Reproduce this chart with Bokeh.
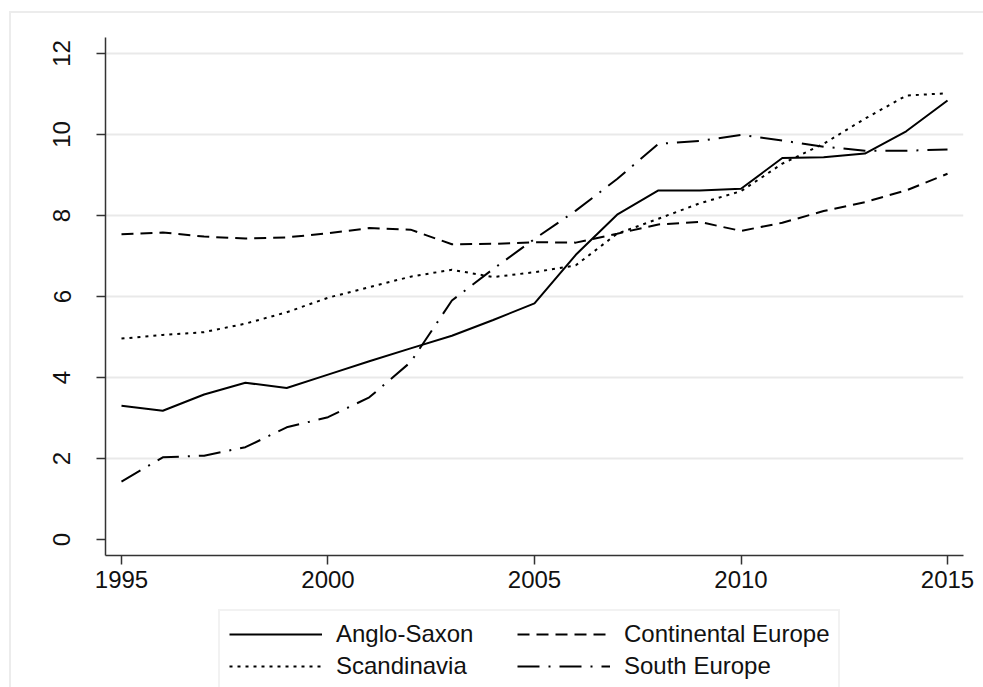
from bokeh.plotting import figure
from bokeh.layouts import column
from bokeh.models import Legend, LegendItem, FixedTicker, Range1d
from bokeh.embed import file_html
from bokeh.resources import INLINE

years = list(range(1995, 2016))
anglo_saxon = [3.30, 3.18, 3.58, 3.87, 3.74, 4.07, 4.40, 4.72, 5.03, 5.42, 5.83,
               7.03, 8.02, 8.62, 8.62, 8.66, 9.42, 9.44, 9.53, 10.08, 10.84]
continental_europe = [7.54, 7.58, 7.48, 7.43, 7.46, 7.56, 7.69, 7.65, 7.29, 7.30, 7.34,
                      7.33, 7.55, 7.78, 7.84, 7.62, 7.82, 8.11, 8.33, 8.62, 9.03]
scandinavia = [4.96, 5.05, 5.12, 5.33, 5.61, 5.97, 6.23, 6.49, 6.66, 6.48, 6.60,
               6.77, 7.55, 7.92, 8.30, 8.60, 9.28, 9.77, 10.39, 10.96, 11.02]
south_europe = [1.43, 2.03, 2.07, 2.28, 2.77, 3.02, 3.51, 4.38, 5.90, 6.68, 7.42,
                8.12, 8.90, 9.77, 9.84, 9.99, 9.85, 9.70, 9.60, 9.60, 9.63]

series_labels = ["Anglo-Saxon", "Continental Europe", "Scandinavia", "South Europe"]
x_ticks = [1995, 2000, 2005, 2010, 2015]
y_ticks = [0, 2, 4, 6, 8, 10, 12]
grid_ticks = [2, 4, 6, 8, 10, 12]

FONT = "Liberation Sans"
dashes = ["solid", "12 7", "3 5", "22 9 2 9"]

p = figure(width=972, height=588, title=None,
           x_range=Range1d(1994.613, 2015.387), y_range=Range1d(-0.395, 12.395),
           output_backend="svg", toolbar_location=None,
           min_border_left=94, min_border_right=20, min_border_top=24, min_border_bottom=46)

p.outline_line_color = None
p.background_fill_color = "white"
p.border_fill_color = "white"

p.xgrid.grid_line_color = None
p.ygrid.ticker = FixedTicker(ticks=grid_ticks)
p.ygrid.grid_line_color = "#e9e9e9"
p.ygrid.grid_line_width = 2

p.xaxis.ticker = FixedTicker(ticks=x_ticks)
p.yaxis.ticker = FixedTicker(ticks=y_ticks)
for ax in (p.xaxis, p.yaxis):
    ax.axis_line_color = "#333333"
    ax.axis_line_width = 1.5
    ax.major_tick_line_color = "#333333"
    ax.major_tick_line_width = 1.5
    ax.major_tick_out = 9
    ax.major_tick_in = 0
    ax.minor_tick_line_color = None
    ax.major_label_text_font = FONT
    ax.major_label_text_font_size = "24px"
    ax.major_label_text_color = "#111111"
p.xaxis.major_label_standoff = 6
p.yaxis.major_label_standoff = 26
p.yaxis.major_label_orientation = "vertical"

series = [anglo_saxon, continental_europe, scandinavia, south_europe]
for vals, dash in zip(series, dashes):
    p.line(years, vals, line_color="black", line_width=2, line_dash=dash)

# legend panel below the plot (its frame is aligned with the plot's frame)
lg = figure(width=972, height=86, title=None, output_backend="svg", toolbar_location=None,
            x_range=Range1d(0, 1), y_range=Range1d(0, 1),
            x_axis_type=None, y_axis_type=None,
            min_border_left=0, min_border_right=0, min_border_top=0, min_border_bottom=0)
lg.outline_line_color = None
lg.grid.grid_line_color = None
lg.border_fill_color = "white"
# same series drawn out of this panel's view; only used for the legend keys
lg_renderers = [lg.line(years, vals, line_color="black", line_width=2, line_dash=d)
                for vals, d in zip(series, dashes)]

legend = Legend(items=[LegendItem(label=lab, renderers=[r])
                       for lab, r in zip(series_labels, lg_renderers)],
                location=(113, -4), orientation="horizontal", ncols=2)
legend.border_line_color = "#e6e6e6"
legend.border_line_width = 2
legend.background_fill_color = "white"
legend.background_fill_alpha = 1
legend.label_text_font = FONT
legend.label_text_font_size = "24px"
legend.label_text_color = "#111111"
legend.glyph_width = 93
legend.glyph_height = 26
legend.label_height = 26
legend.label_width = 177
legend.label_standoff = 14
legend.spacing = 4
legend.padding = 9
legend.margin = 0
lg.add_layout(legend, "center")

layout = column(p, lg, spacing=0,
                styles={"margin-left": "9px", "margin-top": "11px",
                        "border-top": "2px solid #ececec", "border-left": "2px solid #ececec"})

open("out.html", "w").write(file_html(layout, INLINE))
